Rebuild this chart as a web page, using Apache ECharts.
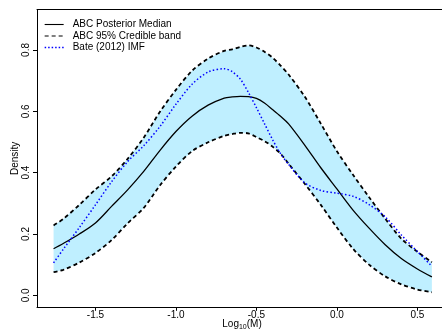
<!DOCTYPE html>
<html><head><meta charset="utf-8">
<script src="https://cdn.jsdelivr.net/npm/echarts@6/dist/echarts.min.js"></script>
<style>html,body{margin:0;padding:0;background:#fff}#c{width:442px;height:331px}</style>
</head><body><div id="c"></div>
<script>
const logM   = [-1.76,-1.7,-1.6,-1.5,-1.4,-1.3,-1.2,-1.1,-1.0,-0.9,-0.8,-0.7,-0.65,-0.6,-0.55,-0.5,-0.45,-0.4,-0.35,-0.3,-0.2,-0.1,0,0.1,0.2,0.3,0.4,0.5,0.59];
const upper  = [0.228,0.249,0.295,0.345,0.388,0.445,0.514,0.598,0.670,0.732,0.772,0.797,0.802,0.810,0.815,0.808,0.794,0.775,0.749,0.720,0.648,0.560,0.470,0.393,0.320,0.250,0.185,0.142,0.108];
const median = [0.152,0.169,0.200,0.236,0.290,0.344,0.404,0.472,0.534,0.584,0.620,0.643,0.647,0.649,0.648,0.642,0.627,0.606,0.584,0.559,0.490,0.416,0.347,0.278,0.219,0.165,0.120,0.086,0.060];
const lower  = [0.076,0.083,0.107,0.138,0.180,0.235,0.285,0.358,0.420,0.470,0.499,0.520,0.526,0.530,0.528,0.516,0.503,0.485,0.462,0.429,0.364,0.295,0.221,0.152,0.100,0.062,0.036,0.019,0.010];
const bate   = [0.106,0.150,0.221,0.295,0.370,0.436,0.488,0.550,0.623,0.688,0.728,0.739,0.729,0.705,0.662,0.612,0.560,0.508,0.462,0.427,0.367,0.342,0.333,0.323,0.296,0.256,0.197,0.143,0.095];
const xTicks = [-1.5,-1.0,-0.5,0.0,0.5];
const yTicks = [0.0,0.2,0.4,0.6,0.8];
const legendNames = ['ABC Posterior Median','ABC 95% Credible band','Bate (2012) IMF'];

const FONT = '"Liberation Sans", Arial, Helvetica, sans-serif';
const pairs = ys => logM.map((x,i)=>[x, ys[i]]);
const SM = 0.3;
const XMIN = -1.863, XMAX = 0.684;
const chart = echarts.init(document.getElementById('c'), null, {renderer:'canvas'});
chart.setOption({
  animation:false,
  grid:{left:37, top:9.5, right:-5, bottom:23.7, outerBoundsMode:'none', containLabel:false},
  legend:{data:[
      {name:legendNames[0], lineStyle:{color:'#000', width:1.1, type:'solid'}},
      {name:legendNames[1], lineStyle:{color:'#000', width:1.1, type:[4,3]}},
      {name:legendNames[2], lineStyle:{color:'#0000FF', width:1.3, type:[1.5,2]}}],
    orient:'vertical', left:44, top:19.5, padding:0, itemWidth:19, itemHeight:10, itemGap:1.5,
    itemStyle:{opacity:0, borderWidth:0},
    textStyle:{fontSize:10, fontFamily:FONT, color:'#000', padding:[0,0,0,4]}},
  xAxis:[{type:'value', min:XMIN, max:XMAX, z:10, splitLine:{show:false},
    axisLine:{show:true, onZero:false, lineStyle:{color:'#000', width:1}},
    axisTick:{show:true, customValues:xTicks, length:3.5, lineStyle:{color:'#000'}},
    axisLabel:{customValues:xTicks, formatter:v=>v.toFixed(1), margin:3, fontSize:10, color:'#000', fontFamily:FONT},
    name:'Log{s|10}(M)', nameLocation:'middle', nameGap:10, nameMoveOverlap:false,
    nameTextStyle:{fontSize:10, color:'#000', fontFamily:FONT, rich:{s:{fontSize:7, color:'#000', fontFamily:FONT, verticalAlign:'bottom', padding:[6,0,0,0]}}}},
   {type:'value', position:'top', min:XMIN, max:XMAX, z:10, splitLine:{show:false},
    axisLine:{show:true, onZero:false, lineStyle:{color:'#000', width:1}}, axisTick:{show:false}, axisLabel:{show:false}}],
  yAxis:{type:'value', min:-0.039, max:0.932, z:10, splitLine:{show:false},
    axisLine:{show:true, onZero:false, lineStyle:{color:'#000', width:1}},
    axisTick:{show:true, customValues:yTicks, length:4, lineStyle:{color:'#000'}},
    axisLabel:{customValues:yTicks, rotate:90, formatter:v=>v.toFixed(1), margin:6, fontSize:10, color:'#000', fontFamily:FONT},
    name:'Density', nameLocation:'middle', nameGap:17, nameMoveOverlap:false, nameTextStyle:{fontSize:10, color:'#000', fontFamily:FONT}},
  series:[
    {type:'custom', name:'band', data:[[logM[0], upper[0]]], silent:true, z:1,
      renderItem:(params, api)=>{
        const pts = [];
        for (let i=0;i<logM.length;i++) pts.push(api.coord([logM[i], upper[i]]));
        for (let i=logM.length-1;i>=0;i--) pts.push(api.coord([logM[i], lower[i]]));
        return {type:'polygon', shape:{points:pts}, style:{fill:'#BFEFFF', stroke:null}};
      }},
    {type:'line', name:'ABC 95% Credible band', data:pairs(upper), symbol:'none', smooth:SM, color:'#000',
      lineStyle:{color:'#000', width:1.8, type:[4,3]}, z:3},
    {type:'line', name:'ABC lower band', data:pairs(lower), symbol:'none', smooth:SM, color:'#000',
      lineStyle:{color:'#000', width:1.8, type:[4,3]}, z:3},
    {type:'line', name:'ABC Posterior Median', data:pairs(median), symbol:'none', smooth:SM, color:'#000', lineStyle:{color:'#000', width:1.3}, z:4},
    {type:'line', name:'Bate (2012) IMF', data:pairs(bate), symbol:'none', smooth:SM, color:'#0000FF', lineStyle:{color:'#0000FF', width:1.5, type:[1.5,2.2]}, z:5}
  ]
});
</script></body></html>
